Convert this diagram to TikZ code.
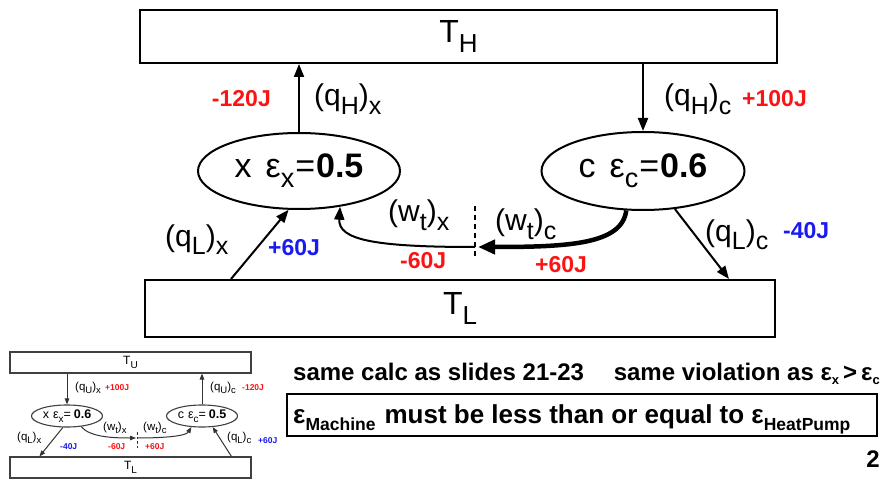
\documentclass[tikz,border=0pt]{standalone}
\usepackage{fontspec}
\setmainfont{Liberation Sans}
\usetikzlibrary{arrows.meta,shapes.geometric}
\definecolor{jred}{RGB}{250,20,20}
\definecolor{jblue}{RGB}{25,25,240}
\newcommand\fs[1]{\fontsize{#1}{#1}\selectfont}
\newcommand\lo[2]{\raisebox{-0.3em}{\fs{#1}#2}}
\begin{document}
\begin{tikzpicture}[x=1pt,y=-1pt,
  box/.style={draw,line width=2pt,inner sep=0pt},
  ell/.style={draw,ellipse,line width=2pt,inner sep=0pt},
  arr/.style={line width=2pt,-{Triangle[length=13pt,width=10pt]}},
  lbl/.style={inner sep=0pt,font=\fs{30}},
  jr/.style={inner sep=0pt,text=jred,font=\bfseries\fs{23}},
  jb/.style={inner sep=0pt,text=jblue,font=\bfseries\fs{23}},
  sbox/.style={draw=black!75,line width=1.1pt,inner sep=0pt},
  sell/.style={draw=black!75,ellipse,line width=1.1pt,inner sep=0pt},
  sarr/.style={draw=black!80,line width=1pt,-{Triangle[length=6pt,width=4.5pt]}},
  slbl/.style={inner sep=0pt,font=\fs{11.5}},
  sjr/.style={inner sep=0pt,text=jred,font=\bfseries\fs{8.5}},
  sjb/.style={inner sep=0pt,text=jblue,font=\bfseries\fs{8.5}},
  txt/.style={inner sep=0pt,font=\bfseries\fs{24}}
]
\useasboundingbox (0,0) rectangle (886,481);
\fill[white] (0,0) rectangle (886,481);

% ---------- main diagram ----------
\node[box,minimum width=637pt,minimum height=53pt] (TH) at (458.5,36.5) {\fs{32}T\lo{26}{H}};
\node[box,minimum width=630pt,minimum height=57pt] (TL) at (460,308.5) {\fs{32}T\lo{26}{L}};
\node[ell,minimum width=202pt,minimum height=76pt] (ex) at (299,171)
  {\fs{34}x\hspace{14pt}ε\lo{27}{x}\kern1pt=\kern1pt\textbf{0.5}};
\node[ell,minimum width=203pt,minimum height=78pt] (ec) at (643,171)
  {\fs{34}c\hspace{14pt}ε\lo{27}{c}\kern1pt=\kern1pt\textbf{0.6}};

\draw[arr] (ex.north) -- (ex.north |- TH.south);
\draw[arr] (TH.south -| ec.north) -- (ec.north);
\draw[arr] ([xshift=87pt]TL.north west) -- (ex.255);
\draw[arr] (ec.-50) -- ([xshift=585pt]TL.north west);

\coordinate (wd) at (475,247);
\coordinate (wtop) at (475,206);
\coordinate (wbot) at (475,258);
\draw[dashed,line width=1.5pt,dash pattern=on 5pt off 4pt] (wtop) -- (wbot);
\draw[line width=4.5pt,-{Triangle[length=17pt,width=14pt]}]
  (ec.247) .. controls (622,244) and (570,247) .. ([xshift=3pt]wd);
\draw[arr] (wd) .. controls (375,247) and (338,240) .. (ex.-41);

\node[jr,anchor=base east] at (271,107) {-120J};
\node[lbl,anchor=base west] at (314,106) {(q\lo{25}{H})\lo{25}{x}};
\node[lbl,anchor=base west] at (664,106) {(q\lo{25}{H})\lo{25}{c}};
\node[jr,anchor=base west] at (742,107) {+100J};
\node[lbl,anchor=base west] at (165,246) {(q\lo{25}{L})\lo{25}{x}};
\node[jb,anchor=base west] at (268,255) {+60J};
\node[lbl,anchor=base west] at (388,222) {(w\lo{25}{t})\lo{25}{x}};
\node[jr,anchor=base west] at (400,268) {-60J};
\node[lbl,anchor=base west] at (495,231) {(w\lo{25}{t})\lo{25}{c}};
\node[jr,anchor=base west] at (535,272) {+60J};
\node[lbl,anchor=base west] at (705,241) {(q\lo{25}{L})\lo{25}{c}};
\node[jb,anchor=base west] at (783,238) {-40J};

% ---------- small diagram ----------
\node[sbox,minimum width=241pt,minimum height=21pt] (sTU) at (130.5,362.5) {\fs{12}T\lo{10}{U}};
\node[sbox,minimum width=241pt,minimum height=21pt] (sTL) at (130.5,467.5) {\fs{12}T\lo{10}{L}};
\node[sell,minimum width=71pt,minimum height=22pt] (sex) at (67,416)
  {\fs{12.5}x\hspace{4pt}ε\lo{10}{x}=\hspace{3pt}\textbf{0.6}};
\node[sell,minimum width=71pt,minimum height=22pt] (sec) at (202,416)
  {\fs{12.5}c\hspace{4pt}ε\lo{10}{c}=\hspace{3pt}\textbf{0.5}};

\draw[sarr] (sTU.south -| sex.north) -- (sex.north);
\draw[sarr] (sec.north) -- (sec.north |- sTU.south);
\draw[sarr] (sex.250) -- ([xshift=30pt]sTL.north west);
\draw[sarr] ([xshift=222pt]sTL.north west) -- (sec.-46);

\coordinate (swd) at (137,438);
\coordinate (swtop) at (137,432);
\coordinate (swbot) at (137,449);
\draw[draw=black!80,dashed,line width=0.8pt,dash pattern=on 2.5pt off 2pt] (swtop) -- (swbot);
\draw[sarr] (sex.-37) .. controls (90,437) and (112,438) .. ([xshift=-1pt]swd);
\draw[sarr] (swd) .. controls (165,438) and (186,436) .. (sec.226);

\node[slbl,anchor=base west] at (75,390) {(q\lo{9.5}{U})\lo{9.5}{x}};
\node[sjr,anchor=base west] at (105,390) {+100J};
\node[slbl,anchor=base west] at (210,390) {(q\lo{9.5}{U})\lo{9.5}{c}};
\node[sjr,anchor=base west] at (242,390) {-120J};
\node[slbl,anchor=base west] at (17,440) {(q\lo{9.5}{L})\lo{9.5}{x}};
\node[sjb,anchor=base west] at (60,449) {-40J};
\node[slbl,anchor=base west] at (103,430) {(w\lo{9.5}{t})\lo{9.5}{x}};
\node[slbl,anchor=base west] at (143,430) {(w\lo{9.5}{t})\lo{9.5}{c}};
\node[sjr,anchor=base west] at (108,449) {-60J};
\node[sjr,anchor=base west] at (145,449) {+60J};
\node[slbl,anchor=base west] at (227,440) {(q\lo{9.5}{L})\lo{9.5}{c}};
\node[sjb,anchor=base west] at (258,443) {+60J};

% ---------- text at the bottom right ----------
\node[txt,anchor=base west] (calc) at (293,380) {same calc as slides 21-23};
\node[txt,anchor=base east] (viol) at (880,380) {same violation as ε\raisebox{-4pt}{\fs{13}x}\,>\,ε\raisebox{-4pt}{\fs{13}c}};
\node[draw,line width=1.6pt,minimum width=590pt,minimum height=42pt,inner sep=0pt] (rule) at (582,415) {};
\node[inner sep=0pt,anchor=base west,font=\bfseries\fs{26}] (ruletxt) at (293,423)
  {ε\raisebox{-7pt}{\fs{17.5}Machine}\hspace{9pt}must be less than or equal to ε\raisebox{-7pt}{\fs{17.5}HeatPump}};
\node[inner sep=0pt,font=\bfseries\fs{24}] (pg) at (873,459) {2};
\end{tikzpicture}
\end{document}
